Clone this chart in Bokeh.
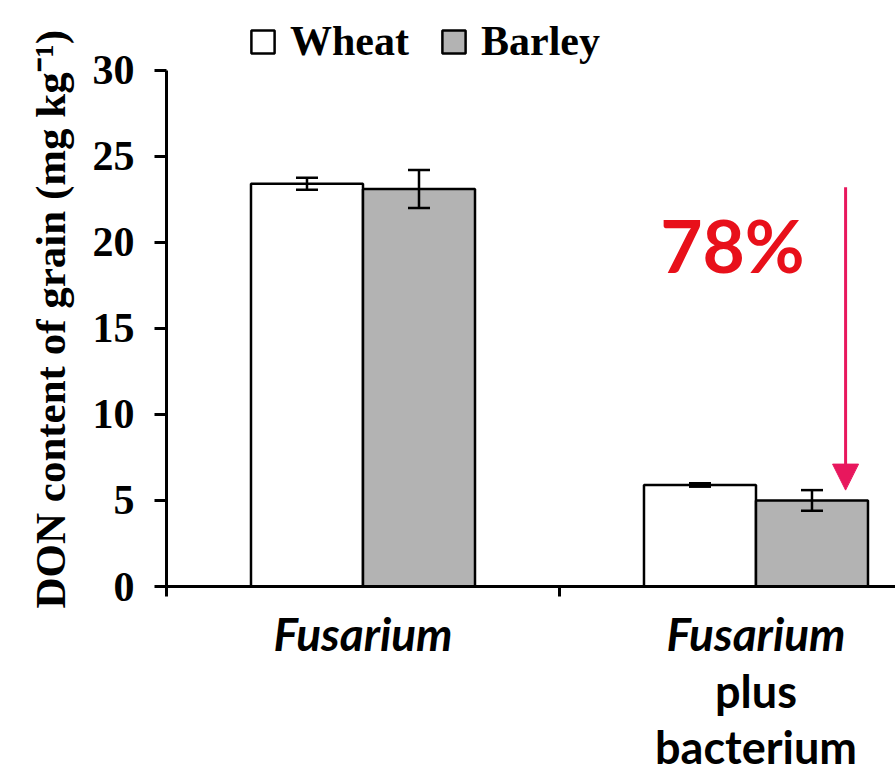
from bokeh.plotting import figure
from bokeh.models import (ColumnDataSource, FixedTicker, LinearAxis, Legend, LegendItem,
                          Whisker, TeeHead, Arrow, NormalHead, Label, Range1d, Title)
from bokeh.embed import file_html
from bokeh.resources import INLINE

# ---- data ----
groups = ["Fusarium", "Fusarium plus bacterium"]
group_label_italic = ["Fusarium", "Fusarium"]
group_label_plain = ["", "plus\nbacterium"]
series = ["Wheat", "Barley"]
wheat = [23.4, 5.9]
wheat_err = [0.35, 0.1]
barley = [23.1, 5.0]
barley_err = [1.1, 0.6]
reduction_text = "78%"
y_ticks = [0, 5, 10, 15, 20, 25, 30]
y_label = "DON content of grain (mg kg\u207b\u00b9)"

BAR_W = 0.285
OFF = 0.1425
gx = list(range(len(groups)))

src_w = ColumnDataSource(dict(x=[g - OFF for g in gx], top=wheat,
                              upper=[v + e for v, e in zip(wheat, wheat_err)],
                              lower=[v - e for v, e in zip(wheat, wheat_err)]))
src_b = ColumnDataSource(dict(x=[g + OFF for g in gx], top=barley,
                              upper=[v + e for v, e in zip(barley, barley_err)],
                              lower=[v - e for v, e in zip(barley, barley_err)]))

# frame spans the full top of the figure; room above 30 holds the legend
p = figure(width=895, height=777, output_backend="svg", toolbar_location=None,
           x_range=Range1d(-0.5, 1.355), y_range=Range1d(0, 34.05),
           min_border_left=166, min_border_top=0, min_border_bottom=189, min_border_right=0)
p.outline_line_color = None
p.xgrid.visible = False
p.ygrid.visible = False
p.background_fill_color = "white"

rw = p.vbar(x="x", top="top", width=BAR_W, source=src_w, fill_color="white",
            line_color="black", line_width=2.5)
rb = p.vbar(x="x", top="top", width=BAR_W, source=src_b, fill_color="#b3b3b3",
            line_color="black", line_width=2.5)

for s in (src_w, src_b):
    w = Whisker(base="x", upper="upper", lower="lower", source=s, level="overlay",
                line_color="black", line_width=2.5,
                upper_head=TeeHead(size=22, line_width=2.5, line_color="black"),
                lower_head=TeeHead(size=22, line_width=2.5, line_color="black"))
    p.add_layout(w)

# ---- y axis ----
ya = p.yaxis[0]
ya.ticker = FixedTicker(ticks=y_ticks)
ya.bounds = (y_ticks[0], y_ticks[-1])
ya.axis_line_width = 3
ya.major_tick_line_width = 3
ya.major_tick_out = 12
ya.major_tick_in = 0
ya.minor_tick_out = 0
ya.minor_tick_in = 0
ya.major_label_standoff = 20
ya.major_label_text_font = "Liberation Serif"
ya.major_label_text_font_style = "bold"
ya.major_label_text_font_size = "42px"
ya.major_label_text_color = "black"

# y-axis title as a left-side title, anchored to the bottom of the axis
ytitle = Title(text=y_label, align="left", offset=-22, standoff=32,
               text_font="Liberation Serif", text_font_style="bold",
               text_font_size="43px", text_color="black")
p.add_layout(ytitle, "left")

# ---- x axes ----
xa = p.xaxis[0]
xa.ticker = FixedTicker(ticks=gx, minor_ticks=[-0.5, 0.5, 1.5])
xa.major_label_overrides = {g: lab for g, lab in zip(gx, group_label_italic)}
xa.axis_line_width = 3
xa.major_tick_out = 0
xa.major_tick_in = 0
xa.minor_tick_out = 10
xa.minor_tick_in = 0
xa.minor_tick_line_width = 3
xa.major_label_standoff = 9
xa.major_label_text_font = "Lato"
xa.major_label_text_font_style = "bold italic"
xa.major_label_text_font_size = "46px"
xa.major_label_text_color = "black"

xa2 = LinearAxis(ticker=FixedTicker(ticks=gx),
                 major_label_overrides={g: lab for g, lab in zip(gx, group_label_plain)})
xa2.axis_line_color = None
xa2.major_tick_line_color = None
xa2.minor_tick_line_color = None
xa2.major_tick_out = 0
xa2.major_tick_in = 0
xa2.major_label_standoff = 0
xa2.major_label_text_font = "Lato"
xa2.major_label_text_font_style = "bold"
xa2.major_label_text_font_size = "45px"
xa2.major_label_text_line_height = 1.05
xa2.major_label_text_color = "black"
p.add_layout(xa2, "below")

# ---- legend ----
legend = Legend(items=[LegendItem(label=series[0], renderers=[rw]),
                       LegendItem(label=series[1], renderers=[rb])],
                orientation="horizontal", location=(82, 521),
                padding=0, margin=0, spacing=30, label_standoff=13,
                glyph_width=29, glyph_height=29, label_height=29,
                label_text_font="Liberation Serif", label_text_font_style="bold",
                label_text_font_size="42px", label_text_color="black",
                background_fill_alpha=0, border_line_color=None)
p.add_layout(legend, "center")

# ---- annotation ----
p.add_layout(Arrow(x_start=1.228, y_start=23.2, x_end=1.228, y_end=5.6,
                   line_color="#e8175d", line_width=3,
                   end=NormalHead(size=26, fill_color="#e8175d", line_color="#e8175d")))
p.add_layout(Label(x=0.94, y=19.85, text=reduction_text, text_align="center",
                   text_baseline="middle", text_font="Lato", text_font_style="bold",
                   text_font_size="73px", text_color="#e8101a"))

open("out.html", "w").write(file_html(p, INLINE))
